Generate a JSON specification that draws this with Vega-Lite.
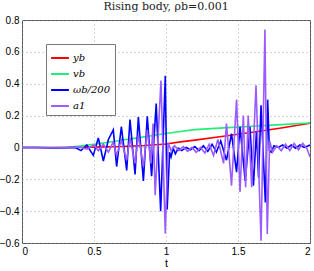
{
  "$schema": "https://vega.github.io/schema/vega-lite/v6.json",
  "width": 288,
  "height": 223,
  "autosize": {"type": "none"},
  "padding": {"left": 22, "top": 20, "right": 4, "bottom": 28},
  "background": "white",
  "title": {"text": "Rising body, ρb=0.001", "font": "DejaVu Serif", "fontSize": 11, "fontWeight": "normal", "color": "#222", "offset": 3},
  "config": {
    "view": {"stroke": "#555", "strokeWidth": 1},
    "axis": {"labelFont": "Liberation Sans", "labelFontSize": 10, "labelColor": "#000", "titleFont": "Liberation Sans", "titleFontSize": 11, "titleFontWeight": "normal", "titleColor": "#000", "grid": true, "gridDash": [1, 3], "gridColor": "#999", "gridOpacity": 0.8, "ticks": false, "domain": false, "labelPadding": 3}
  },
  "data": {"values": [
    {"s": "yb", "t": 0, "v": 0}, {"s": "yb", "t": 0.3, "v": 0}, {"s": "yb", "t": 0.5, "v": 0.002}, {"s": "yb", "t": 0.7, "v": 0.006}, {"s": "yb", "t": 0.85, "v": 0.012}, {"s": "yb", "t": 1.0, "v": 0.022}, {"s": "yb", "t": 1.1, "v": 0.035}, {"s": "yb", "t": 1.2, "v": 0.046}, {"s": "yb", "t": 1.4, "v": 0.07}, {"s": "yb", "t": 1.6, "v": 0.095}, {"s": "yb", "t": 1.8, "v": 0.122}, {"s": "yb", "t": 2.0, "v": 0.152},
    {"s": "vb", "t": 0, "v": 0}, {"s": "vb", "t": 0.3, "v": 0}, {"s": "vb", "t": 0.4, "v": 0.008}, {"s": "vb", "t": 0.5, "v": 0.02}, {"s": "vb", "t": 0.6, "v": 0.033}, {"s": "vb", "t": 0.7, "v": 0.047}, {"s": "vb", "t": 0.8, "v": 0.06}, {"s": "vb", "t": 0.9, "v": 0.073}, {"s": "vb", "t": 1.0, "v": 0.087}, {"s": "vb", "t": 1.1, "v": 0.1}, {"s": "vb", "t": 1.2, "v": 0.112}, {"s": "vb", "t": 1.4, "v": 0.123}, {"s": "vb", "t": 1.6, "v": 0.133}, {"s": "vb", "t": 1.8, "v": 0.143}, {"s": "vb", "t": 2.0, "v": 0.153},
    {"s": "ωb/200", "t": 0, "v": 0}, {"s": "ωb/200", "t": 0.1, "v": 0}, {"s": "ωb/200", "t": 0.2, "v": -0.003}, {"s": "ωb/200", "t": 0.3, "v": -0.002}, {"s": "ωb/200", "t": 0.37, "v": 0}, {"s": "ωb/200", "t": 0.41, "v": -0.02}, {"s": "ωb/200", "t": 0.45, "v": 0.015}, {"s": "ωb/200", "t": 0.495, "v": -0.05}, {"s": "ωb/200", "t": 0.53, "v": 0.06}, {"s": "ωb/200", "t": 0.565, "v": -0.085}, {"s": "ωb/200", "t": 0.6, "v": 0.05}, {"s": "ωb/200", "t": 0.634, "v": 0.11}, {"s": "ωb/200", "t": 0.657, "v": -0.12}, {"s": "ωb/200", "t": 0.69, "v": 0.13}, {"s": "ωb/200", "t": 0.727, "v": -0.145}, {"s": "ωb/200", "t": 0.75, "v": 0.175}, {"s": "ωb/200", "t": 0.785, "v": -0.17}, {"s": "ωb/200", "t": 0.808, "v": 0.19}, {"s": "ωb/200", "t": 0.843, "v": -0.21}, {"s": "ωb/200", "t": 0.87, "v": 0.195}, {"s": "ωb/200", "t": 0.9, "v": -0.18}, {"s": "ωb/200", "t": 0.932, "v": 0.275}, {"s": "ωb/200", "t": 0.963, "v": -0.4}, {"s": "ωb/200", "t": 0.995, "v": 0.45}, {"s": "ωb/200", "t": 1.008, "v": -0.39}, {"s": "ωb/200", "t": 1.025, "v": -0.03}, {"s": "ωb/200", "t": 1.035, "v": -0.06}, {"s": "ωb/200", "t": 1.05, "v": -0.005}, {"s": "ωb/200", "t": 1.065, "v": -0.04}, {"s": "ωb/200", "t": 1.085, "v": -0.005}, {"s": "ωb/200", "t": 1.11, "v": -0.02}, {"s": "ωb/200", "t": 1.14, "v": 0}, {"s": "ωb/200", "t": 1.17, "v": -0.015}, {"s": "ωb/200", "t": 1.2, "v": 0.005}, {"s": "ωb/200", "t": 1.23, "v": -0.02}, {"s": "ωb/200", "t": 1.26, "v": 0.01}, {"s": "ωb/200", "t": 1.29, "v": -0.025}, {"s": "ωb/200", "t": 1.32, "v": 0.02}, {"s": "ωb/200", "t": 1.35, "v": -0.03}, {"s": "ωb/200", "t": 1.38, "v": 0.04}, {"s": "ωb/200", "t": 1.42, "v": -0.08}, {"s": "ωb/200", "t": 1.455, "v": 0.086}, {"s": "ωb/200", "t": 1.49, "v": -0.155}, {"s": "ωb/200", "t": 1.514, "v": 0.13}, {"s": "ωb/200", "t": 1.55, "v": -0.21}, {"s": "ωb/200", "t": 1.583, "v": 0.13}, {"s": "ωb/200", "t": 1.607, "v": -0.24}, {"s": "ωb/200", "t": 1.628, "v": 0.1}, {"s": "ωb/200", "t": 1.643, "v": -0.19}, {"s": "ωb/200", "t": 1.66, "v": 0.265}, {"s": "ωb/200", "t": 1.69, "v": -0.345}, {"s": "ωb/200", "t": 1.706, "v": 0.3}, {"s": "ωb/200", "t": 1.718, "v": -0.02}, {"s": "ωb/200", "t": 1.73, "v": -0.03}, {"s": "ωb/200", "t": 1.75, "v": 0.01}, {"s": "ωb/200", "t": 1.78, "v": 0}, {"s": "ωb/200", "t": 1.81, "v": 0.015}, {"s": "ωb/200", "t": 1.84, "v": -0.005}, {"s": "ωb/200", "t": 1.87, "v": 0.015}, {"s": "ωb/200", "t": 1.9, "v": -0.005}, {"s": "ωb/200", "t": 1.93, "v": 0.015}, {"s": "ωb/200", "t": 1.96, "v": 0}, {"s": "ωb/200", "t": 2.0, "v": 0.015},
    {"s": "a1", "t": 0, "v": 0}, {"s": "a1", "t": 0.2, "v": -0.002}, {"s": "a1", "t": 0.4, "v": 0.003}, {"s": "a1", "t": 0.45, "v": -0.01}, {"s": "a1", "t": 0.5, "v": 0.015}, {"s": "a1", "t": 0.53, "v": -0.02}, {"s": "a1", "t": 0.565, "v": 0.02}, {"s": "a1", "t": 0.6, "v": -0.03}, {"s": "a1", "t": 0.634, "v": 0.035}, {"s": "a1", "t": 0.657, "v": -0.05}, {"s": "a1", "t": 0.69, "v": 0.045}, {"s": "a1", "t": 0.727, "v": -0.08}, {"s": "a1", "t": 0.75, "v": 0.06}, {"s": "a1", "t": 0.785, "v": -0.1}, {"s": "a1", "t": 0.808, "v": 0.08}, {"s": "a1", "t": 0.843, "v": -0.12}, {"s": "a1", "t": 0.87, "v": 0.11}, {"s": "a1", "t": 0.895, "v": -0.1}, {"s": "a1", "t": 0.91, "v": 0.15}, {"s": "a1", "t": 0.925, "v": -0.3}, {"s": "a1", "t": 0.965, "v": 0.42}, {"s": "a1", "t": 0.995, "v": -0.54}, {"s": "a1", "t": 1.015, "v": 0.03}, {"s": "a1", "t": 1.035, "v": -0.02}, {"s": "a1", "t": 1.06, "v": 0.01}, {"s": "a1", "t": 1.09, "v": -0.02}, {"s": "a1", "t": 1.12, "v": 0.005}, {"s": "a1", "t": 1.15, "v": -0.025}, {"s": "a1", "t": 1.18, "v": 0}, {"s": "a1", "t": 1.21, "v": -0.03}, {"s": "a1", "t": 1.24, "v": 0}, {"s": "a1", "t": 1.27, "v": -0.035}, {"s": "a1", "t": 1.3, "v": 0.02}, {"s": "a1", "t": 1.33, "v": -0.05}, {"s": "a1", "t": 1.36, "v": 0.05}, {"s": "a1", "t": 1.4, "v": -0.1}, {"s": "a1", "t": 1.42, "v": 0.15}, {"s": "a1", "t": 1.455, "v": -0.24}, {"s": "a1", "t": 1.49, "v": 0.3}, {"s": "a1", "t": 1.514, "v": -0.28}, {"s": "a1", "t": 1.537, "v": 0.2}, {"s": "a1", "t": 1.553, "v": -0.25}, {"s": "a1", "t": 1.571, "v": 0.2}, {"s": "a1", "t": 1.595, "v": -0.25}, {"s": "a1", "t": 1.625, "v": 0.39}, {"s": "a1", "t": 1.66, "v": -0.586}, {"s": "a1", "t": 1.687, "v": 0.74}, {"s": "a1", "t": 1.703, "v": -0.544}, {"s": "a1", "t": 1.72, "v": 0.04}, {"s": "a1", "t": 1.74, "v": -0.03}, {"s": "a1", "t": 1.77, "v": 0.01}, {"s": "a1", "t": 1.8, "v": -0.02}, {"s": "a1", "t": 1.83, "v": 0.02}, {"s": "a1", "t": 1.86, "v": -0.02}, {"s": "a1", "t": 1.89, "v": 0.025}, {"s": "a1", "t": 1.92, "v": -0.015}, {"s": "a1", "t": 1.95, "v": 0.025}, {"s": "a1", "t": 1.98, "v": -0.01}, {"s": "a1", "t": 2.0, "v": -0.06}
  ]},
  "mark": {"type": "line", "strokeWidth": 1.6, "clip": true},
  "encoding": {
    "x": {"field": "t", "type": "quantitative", "scale": {"domain": [0, 2], "nice": false}, "axis": {"values": [0, 0.5, 1, 1.5, 2], "format": "~g", "title": "t", "titlePadding": 1}},
    "y": {"field": "v", "type": "quantitative", "scale": {"domain": [-0.6, 0.8], "nice": false}, "axis": {"values": [-0.6, -0.4, -0.2, 0, 0.2, 0.4, 0.6, 0.8], "format": "~g", "title": null}},
    "color": {"field": "s", "type": "nominal", "scale": {"domain": ["yb", "vb", "ωb/200", "a1"], "range": ["#ff0000", "#22ee77", "#0000ff", "#9b5cff"]},
      "legend": {"title": null, "orient": "none", "legendX": 24, "legendY": 24, "symbolType": "stroke", "symbolSize": 320, "symbolStrokeWidth": 2, "labelFont": "DejaVu Serif", "labelFontStyle": "italic", "labelFontSize": 10, "labelColor": "#000", "rowPadding": 1, "strokeColor": "#777", "fillColor": "white", "padding": 4, "labelOffset": 3, "labelLimit": 200}},
    "order": {"field": "t", "type": "quantitative"}
  }
}
